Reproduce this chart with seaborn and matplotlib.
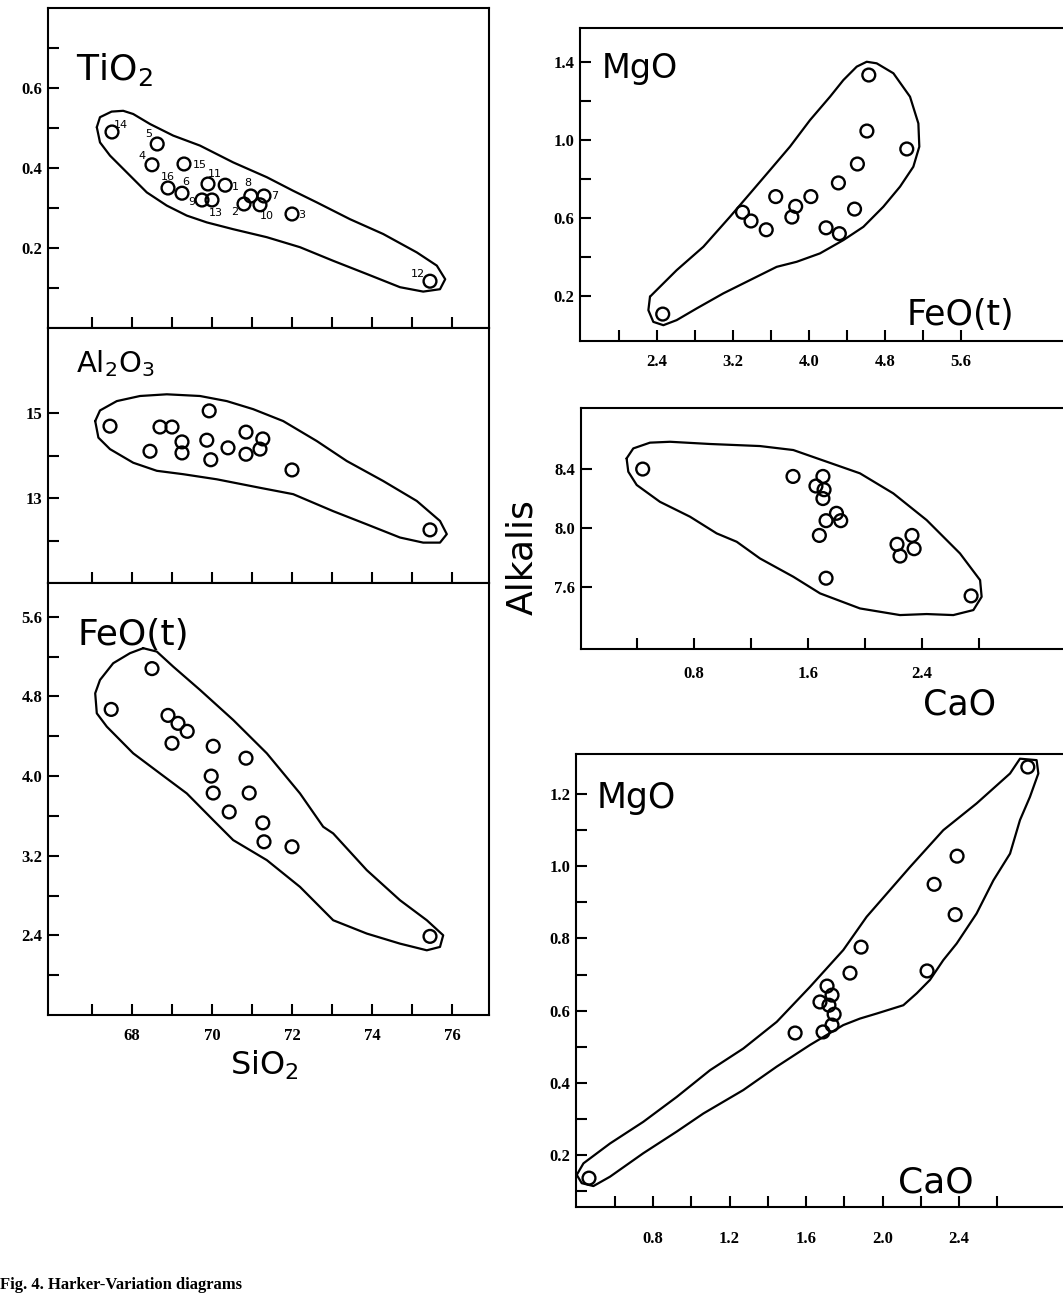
import numpy as np
import pandas as pd
import seaborn as sns
import matplotlib as mpl
import matplotlib.pyplot as plt

# ---- data ----
# Harker diagrams (left column), all vs SiO2
sample_ids = [14, 5, 4, 15, 16, 6, 9, 13, 11, 1, 2, 8, 10, 7, 3, 12]
tio2_sio2 = [67.5, 68.63, 68.5, 69.3, 68.9, 69.25, 69.75, 70.0, 69.9, 70.33, 70.8, 70.97, 71.2, 71.3, 72.0, 75.45]
tio2 = [0.49, 0.46, 0.408, 0.41, 0.35, 0.337, 0.32, 0.32, 0.36, 0.357, 0.31, 0.33, 0.308, 0.33, 0.285, 0.117]

al2o3_sio2 = [67.45, 68.45, 68.7, 69.0, 69.25, 69.25, 69.87, 69.93, 69.97, 70.4, 70.85, 70.85, 71.27, 71.2, 72.0, 75.45]
al2o3 = [14.69, 14.1, 14.67, 14.67, 14.32, 14.06, 14.36, 15.05, 13.9, 14.18, 14.55, 14.03, 14.39, 14.15, 13.66, 12.25]

feo_sio2 = [67.48, 68.5, 68.9, 69.15, 69.38, 69.0, 70.03, 70.85, 69.98, 70.03, 70.93, 70.43, 71.27, 71.3, 72.0, 75.45]
feo = [4.67, 5.08, 4.61, 4.53, 4.45, 4.33, 4.3, 4.18, 4.0, 3.83, 3.83, 3.64, 3.53, 3.34, 3.29, 2.39]

# right column
mf_feo = [2.46, 3.3, 3.39, 3.55, 3.65, 3.82, 3.86, 4.02, 4.18, 4.32, 4.31, 4.48, 4.51, 4.61, 4.63, 5.03]
mf_mgo = [0.108, 0.63, 0.585, 0.54, 0.71, 0.605, 0.66, 0.71, 0.55, 0.52, 0.78, 0.646, 0.877, 1.046, 1.333, 0.954]

ak_cao = [0.44, 1.495, 1.656, 1.705, 1.713, 1.705, 1.80, 1.727, 1.83, 1.68, 1.727, 2.225, 2.246, 2.33, 2.345, 2.745]
ak_alk = [8.40, 8.35, 8.285, 8.35, 8.26, 8.20, 8.10, 8.05, 8.05, 7.95, 7.66, 7.89, 7.81, 7.95, 7.86, 7.54]

mc_cao = [0.465, 1.543, 1.689, 1.736, 1.747, 1.673, 1.72, 1.736, 1.71, 1.83, 1.888, 2.233, 2.27, 2.38, 2.39, 2.76]
mc_mgo = [0.136, 0.538, 0.541, 0.56, 0.59, 0.624, 0.615, 0.643, 0.668, 0.704, 0.776, 0.71, 0.95, 0.866, 1.028, 1.275]

# hand-drawn field envelopes (data coordinates)
env_tio2_x = [67.12, 67.2, 67.49, 67.78, 68.03, 68.45, 69.03, 69.7, 70.53, 71.37, 72.03, 72.62, 73.45, 74.28, 75.12, 75.62,
              75.83, 75.7, 75.28, 74.7, 73.87, 73.03, 72.2, 71.37, 70.53, 69.87, 69.37, 68.87, 68.37, 67.87, 67.45, 67.2]
env_tio2_y = [0.502, 0.527, 0.541, 0.543, 0.535, 0.51, 0.481, 0.456, 0.414, 0.377, 0.343, 0.314, 0.272, 0.235, 0.189, 0.156,
              0.122, 0.097, 0.091, 0.102, 0.135, 0.168, 0.202, 0.227, 0.247, 0.264, 0.281, 0.306, 0.339, 0.389, 0.431, 0.464]

env_al_x = [67.08, 67.2, 67.62, 68.2, 68.87, 69.7, 70.37, 71.03, 71.78, 72.62, 73.37, 74.28, 75.12, 75.7, 75.87, 75.7,
            75.28, 74.7, 73.87, 73.03, 72.03, 71.2, 70.12, 69.28, 68.62, 68.03, 67.45, 67.16]
env_al_y = [14.81, 15.06, 15.28, 15.4, 15.44, 15.4, 15.28, 15.09, 14.81, 14.34, 13.87, 13.4, 12.93, 12.46, 12.15, 11.95,
            11.95, 12.07, 12.38, 12.69, 13.09, 13.24, 13.44, 13.56, 13.64, 13.83, 14.15, 14.42]

env_fe_x = [68.28, 68.62, 69.03, 69.7, 70.53, 71.37, 72.2, 72.78, 73.03, 73.87, 74.7, 75.37, 75.78, 75.7, 75.37, 74.7,
            73.87, 73.03, 72.2, 71.37, 70.53, 70.03, 69.37, 68.7, 68.03, 67.37, 67.12, 67.08, 67.2, 67.53, 67.95]
env_fe_y = [5.285, 5.251, 5.1, 4.866, 4.564, 4.229, 3.826, 3.491, 3.424, 3.055, 2.753, 2.552, 2.401, 2.284, 2.25, 2.317,
            2.418, 2.552, 2.887, 3.156, 3.357, 3.558, 3.826, 4.027, 4.229, 4.497, 4.631, 4.832, 4.966, 5.134, 5.235]

env_mf_x = [2.326, 2.396, 2.607, 2.888, 3.169, 3.379, 3.59, 3.8, 4.011, 4.222, 4.362, 4.503, 4.608, 4.713, 4.889, 5.064,
            5.152, 5.162, 5.099, 4.959, 4.783, 4.573, 4.362, 4.116, 3.871, 3.66, 3.449, 3.098, 2.818, 2.607, 2.467, 2.361, 2.309]
env_mf_y = [0.197, 0.231, 0.333, 0.453, 0.607, 0.726, 0.846, 0.966, 1.102, 1.222, 1.307, 1.376, 1.401, 1.393, 1.342, 1.222,
            1.085, 0.966, 0.863, 0.761, 0.658, 0.555, 0.487, 0.419, 0.376, 0.35, 0.299, 0.214, 0.137, 0.077, 0.051, 0.068, 0.128]

env_ak_x = [0.327, 0.374, 0.491, 0.632, 0.912, 1.263, 1.497, 1.731, 1.965, 2.199, 2.433, 2.667, 2.808, 2.819, 2.761, 2.62,
            2.433, 2.246, 1.965, 1.685, 1.497, 1.263, 1.1, 0.959, 0.772, 0.561, 0.398, 0.339]
env_ak_y = [8.472, 8.54, 8.579, 8.585, 8.57, 8.556, 8.529, 8.45, 8.371, 8.235, 8.054, 7.828, 7.647, 7.534, 7.444, 7.41,
            7.417, 7.41, 7.455, 7.557, 7.67, 7.794, 7.907, 7.964, 8.077, 8.178, 8.292, 8.382]

env_mc_x = [0.401, 0.436, 0.575, 0.749, 0.924, 1.098, 1.272, 1.447, 1.621, 1.795, 1.917, 2.144, 2.318, 2.492, 2.667, 2.719,
            2.806, 2.815, 2.771, 2.719, 2.667, 2.58, 2.492, 2.388, 2.318, 2.248, 2.179, 2.109, 1.97, 1.882, 1.795, 1.621,
            1.447, 1.272, 1.063, 0.924, 0.749, 0.575, 0.488, 0.427]
env_mc_y = [0.145, 0.177, 0.232, 0.292, 0.361, 0.435, 0.495, 0.569, 0.666, 0.768, 0.86, 0.998, 1.1, 1.174, 1.257, 1.298,
            1.294, 1.257, 1.192, 1.128, 1.035, 0.961, 0.869, 0.786, 0.74, 0.685, 0.648, 0.615, 0.592, 0.578, 0.56, 0.505,
            0.445, 0.38, 0.315, 0.265, 0.205, 0.14, 0.114, 0.122]

# ---- style ----
sns.set_theme(style="ticks")
mpl.rc('axes', linewidth=1.5, edgecolor='black', labelcolor='black')
mpl.rc('text', color='black')
mpl.rc('xtick', direction='in', color='black', labelcolor='black')
mpl.rc('ytick', direction='in', color='black', labelcolor='black')
mpl.rc('xtick.major', size=8, width=1.5)
mpl.rc('ytick.major', size=8, width=1.5)
plt.rcParams['font.family'] = ['DejaVu Sans']
plt.rcParams['mathtext.fontset'] = 'dejavusans'

W, H = 1063, 1295
tick_font = dict(family='Liberation Serif', weight='bold', size=12)
label_font = dict(family='DejaVu Sans', weight='normal', color='black')


def rect(l, t, r, b):
    return [l / W, 1 - b / H, (r - l) / W, (b - t) / H]


def ticks(ax, axis, pos, shown, fmt, pad):
    labels = [fmt % v if any(abs(v - s) < 1e-6 for s in shown) else '' for v in pos]
    if axis == 'x':
        ax.set_xticks(pos)
        ax.set_xticklabels(labels, fontdict=tick_font)
        ax.tick_params(axis='x', pad=pad)
    else:
        ax.set_yticks(pos)
        ax.set_yticklabels(labels, fontdict=tick_font)
        ax.tick_params(axis='y', pad=pad)


def panel(ax, x, y, ex, ey):
    ax.plot(ex + ex[:1], ey + ey[:1], color='black', lw=1.6, solid_joinstyle='round')
    df = pd.DataFrame({'x': x, 'y': y})
    sns.scatterplot(data=df, x='x', y='y', ax=ax, s=85, facecolors='none',
                    edgecolor='black', linewidth=1.7, zorder=3)
    ax.set_xlabel('')
    ax.set_ylabel('')


fig = plt.figure(figsize=(W / 100, H / 100), dpi=100)

ax_ti = fig.add_axes(rect(48, 8, 489, 328))
ax_al = fig.add_axes(rect(48, 328, 489, 583))
ax_fe = fig.add_axes(rect(48, 583, 489, 1015))
ax_mf = fig.add_axes(rect(580, 28, 1063, 341))
ax_ak = fig.add_axes(rect(581, 408, 1063, 649))
ax_mc = fig.add_axes(rect(576, 754, 1063, 1207))

panel(ax_ti, tio2_sio2, tio2, env_tio2_x, env_tio2_y)
panel(ax_al, al2o3_sio2, al2o3, env_al_x, env_al_y)
panel(ax_fe, feo_sio2, feo, env_fe_x, env_fe_y)
panel(ax_mf, mf_feo, mf_mgo, env_mf_x, env_mf_y)
panel(ax_ak, ak_cao, ak_alk, env_ak_x, env_ak_y)
panel(ax_mc, mc_cao, mc_mgo, env_mc_x, env_mc_y)

# sample numbers in the TiO2 panel
offsets = {14: (6.5, 5), 5: (-6, 7), 4: (-7, 6), 15: (11.5, -0.5), 16: (0, 8), 6: (3, 8),
           9: (-7, -1.5), 13: (3, -9), 11: (5, 7), 1: (7, -1.5), 2: (-6.5, -6), 8: (-2, 9),
           10: (5, -8), 7: (8, 0), 3: (7, -1), 12: (-9, 5)}
for sid, xv, yv in zip(sample_ids, tio2_sio2, tio2):
    ax_ti.annotate(str(sid), (xv, yv), xytext=offsets[sid], textcoords='offset points',
                   ha='center', va='center', fontsize=8, family='DejaVu Sans', color='black')

# left column: shared SiO2 axis
sio2_ticks = list(range(67, 77))
for ax in (ax_ti, ax_al, ax_fe):
    ax.set_xlim(65.9, 76.925)
    ticks(ax, 'x', sio2_ticks, [68, 70, 72, 74, 76], '%d', 9)
for ax in (ax_ti, ax_al):
    ax.tick_params(axis='x', labelbottom=False)

ax_ti.set_ylim(0.0, 0.8)
ticks(ax_ti, 'y', [0.1, 0.2, 0.3, 0.4, 0.5, 0.6, 0.7], [0.2, 0.4, 0.6], '%.1f', 4)
ax_al.set_ylim(11, 17)
ticks(ax_al, 'y', [12, 13, 14, 15], [13, 15], '%d', 4)
ax_fe.set_ylim(1.6, 5.94)
ticks(ax_fe, 'y', [2.0, 2.4, 2.8, 3.2, 3.6, 4.0, 4.4, 4.8, 5.2, 5.6],
      [2.4, 3.2, 4.0, 4.8, 5.6], '%.1f', 4)

# right column
ax_mf.set_xlim(1.589, 6.675)
ax_mf.set_ylim(-0.03, 1.574)
ticks(ax_mf, 'x', [2.0, 2.4, 2.8, 3.2, 3.6, 4.0, 4.4, 4.8, 5.2, 5.6], [2.4, 3.2, 4.0, 4.8, 5.6], '%.1f', 9)
ticks(ax_mf, 'y', [0.2, 0.4, 0.6, 0.8, 1.0, 1.2, 1.4], [0.2, 0.6, 1.0, 1.4], '%.1f', 4)

ax_ak.set_xlim(0.007, 3.39)
ax_ak.set_ylim(7.18, 8.814)
ticks(ax_ak, 'x', [0.4, 0.8, 1.2, 1.6, 2.0, 2.4, 2.8], [0.8, 1.6, 2.4], '%.1f', 12)
ticks(ax_ak, 'y', [7.6, 8.0, 8.4], [7.6, 8.0, 8.4], '%.1f', 4)

ax_mc.set_xlim(0.397, 2.944)
ax_mc.set_ylim(0.056, 1.311)
ticks(ax_mc, 'x', [0.6, 0.8, 1.0, 1.2, 1.4, 1.6, 1.8, 2.0, 2.2, 2.4, 2.6], [0.8, 1.2, 1.6, 2.0, 2.4], '%.1f', 17)
ticks(ax_mc, 'y', [0.1, 0.2, 0.3, 0.4, 0.5, 0.6, 0.7, 0.8, 0.9, 1.0, 1.1, 1.2],
      [0.2, 0.4, 0.6, 0.8, 1.0, 1.2], '%.1f', 4)

for ax in (ax_mf, ax_ak, ax_mc):
    ax.spines['right'].set_visible(False)
    ax.tick_params(right=False)

# oxide names
ax_ti.text(0.063, 0.775, r'TiO$_2$', transform=ax_ti.transAxes, fontsize=26, **label_font)
ax_al.text(0.063, 0.827, r'Al$_2$O$_3$', transform=ax_al.transAxes, fontsize=21, **label_font)
ax_fe.text(0.066, 0.856, 'FeO(t)', transform=ax_fe.transAxes, fontsize=26, **label_font)
ax_fe.text(0.413, -0.139, r'SiO$_2$', transform=ax_fe.transAxes, fontsize=23, **label_font)
ax_mf.text(0.045, 0.84, 'MgO', transform=ax_mf.transAxes, fontsize=24, **label_font)
ax_mf.text(0.677, 0.051, 'FeO(t)', transform=ax_mf.transAxes, fontsize=25, **label_font)
ax_ak.text(-0.122, 0.382, 'Alkalis', transform=ax_ak.transAxes, fontsize=26, rotation=90,
           ha='center', va='center', **label_font)
ax_ak.text(0.785, -0.27, 'CaO', transform=ax_ak.transAxes, fontsize=25, ha='center',
           va='baseline', **label_font)
ax_mc.text(0.043, 0.881, 'MgO', transform=ax_mc.transAxes, fontsize=25, **label_font)
ax_mc.text(0.661, 0.033, 'CaO', transform=ax_mc.transAxes, fontsize=26, **label_font)

fig.text(0.0, 2 / H, 'Fig. 4. Harker-Variation diagrams', fontsize=12, weight='bold',
         family='Liberation Serif', va='bottom', ha='left', color='black')

fig.savefig('out.png', dpi=100)
